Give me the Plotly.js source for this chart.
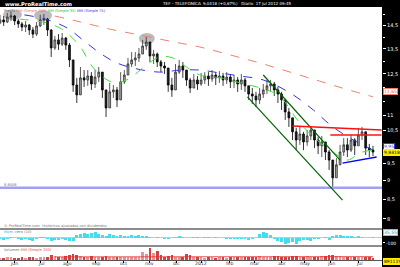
<!DOCTYPE html>
<html><head><meta charset="utf-8">
<script src="https://cdn.plot.ly/plotly-3.0.1.min.js"></script>
<style>html,body{margin:0;padding:0;background:#000}#c{width:400px;height:267px}</style>
</head><body><div id="c"></div><script>
// trading-day index of each (3-day) candle, counted from 16 May 2011
const tradingDay = [0,3,6,9,12,15,18,21,24,27,30,33,36,39,42,45,48,51,54,57,60,63,66,69,72,75,78,81,84,87,90,93,96,99,102,105,108,111,114,117,120,123,126,129,132,135,138,141,144,147,150,153,156,159,162,165,168,171,174,177,180,183,186,189,192,195,198,201,204,207,210,213,216,219,222,225,228,231,234,237,240,243,246,249,252,255,258,261,264,267,270,273,276,279,282,285,288,291,294,297,300,303,306];
const openP = [14.62,14.76,14.67,14.89,14.94,14.71,14.58,14.44,14.53,14.31,14.13,14.49,14.76,14.80,14.31,13.54,13.88,13.70,13.96,13.66,13.05,12.08,11.72,12.35,12.27,12.42,12.12,12.38,12.57,11.90,11.26,11.83,11.90,11.54,12.20,12.46,12.89,13.05,13.13,13.29,13.62,13.79,13.21,13.29,12.97,12.81,12.73,12.08,11.90,12.57,12.81,12.65,12.27,11.97,12.27,12.12,12.27,12.42,12.31,12.46,12.35,12.42,12.27,12.38,12.20,12.27,12.12,12.27,12.05,11.75,11.68,11.54,11.75,11.90,12.05,12.12,11.90,11.75,11.54,11.12,10.92,10.46,10.20,10.39,10.14,10.33,10.52,10.20,10.02,10.14,9.83,9.59,9.08,9.45,9.83,10.05,9.89,10.20,10.02,10.36,10.46,9.95,9.89];
const highP = [14.99,14.94,15.08,15.13,14.99,14.80,14.67,14.71,14.58,14.44,14.67,14.99,15.03,14.85,14.35,14.05,14.13,14.18,14.01,13.75,13.05,12.35,12.77,12.65,12.65,12.57,12.65,12.77,12.57,11.90,12.16,12.08,12.01,12.57,12.65,13.13,13.37,13.37,13.54,13.88,14.01,13.79,13.46,13.35,13.05,12.97,12.73,12.35,12.89,13.05,12.97,12.65,12.35,12.50,12.42,12.54,12.57,12.57,12.65,12.57,12.61,12.54,12.57,12.50,12.46,12.38,12.50,12.35,12.05,11.97,11.83,11.97,12.12,12.27,12.27,12.20,12.01,11.83,11.54,11.26,10.92,10.59,10.65,10.46,10.52,10.65,10.52,10.30,10.33,10.14,9.89,9.59,9.65,10.05,10.26,10.26,10.36,10.26,10.59,10.62,10.46,10.08,10.02];
const lowP = [14.58,14.49,14.62,14.71,14.53,14.40,14.26,14.22,14.09,13.96,14.05,14.44,14.53,14.05,13.17,13.46,13.46,13.62,13.46,12.77,11.83,11.43,11.72,12.01,12.05,11.90,11.97,12.20,11.61,10.95,11.26,11.61,11.29,11.54,12.12,12.46,12.77,12.81,12.97,13.29,13.46,12.97,12.89,12.77,12.57,12.50,11.83,11.65,11.90,12.50,12.35,12.05,11.79,11.97,11.90,12.05,12.12,12.05,12.20,12.08,12.16,12.05,12.12,11.97,11.97,11.83,11.90,11.83,11.54,11.40,11.29,11.40,11.61,11.75,11.83,11.68,11.43,11.19,10.85,10.62,10.20,9.89,10.05,9.89,10.02,10.20,9.95,9.77,9.68,9.59,9.30,8.83,9.08,9.45,9.71,9.68,9.83,9.74,10.02,10.20,9.74,9.68,9.71];
const closeP = [14.76,14.67,14.89,14.94,14.71,14.58,14.44,14.53,14.31,14.13,14.49,14.76,14.80,14.31,13.54,13.88,13.70,13.96,13.66,13.05,12.08,11.72,12.35,12.27,12.42,12.12,12.38,12.57,11.90,11.26,11.83,11.90,11.54,12.20,12.46,12.89,13.05,13.13,13.29,13.62,13.79,13.21,13.29,12.97,12.81,12.73,12.08,11.90,12.57,12.81,12.65,12.27,11.97,12.27,12.12,12.27,12.42,12.31,12.46,12.35,12.42,12.27,12.38,12.20,12.27,12.12,12.27,12.05,11.75,11.68,11.54,11.75,11.90,12.05,12.12,11.90,11.75,11.54,11.12,10.92,10.46,10.20,10.39,10.14,10.33,10.52,10.20,10.02,10.14,9.83,9.59,9.08,9.45,9.83,10.05,9.89,10.20,10.02,10.36,10.46,9.95,9.89,9.83];

const ma200Day = [45,66,90,115,139,164,189,213,238,262,283,306];
const ma200 = [14.94,14.67,14.35,14.09,13.83,13.58,13.25,12.93,12.57,12.23,11.94,11.65];
const ma75Day = [20,37,55,70,82,94,109,131,148,164,180,197,216,238,257,273,290,306];
const ma75 = [14.99,14.80,14.40,13.79,13.33,12.97,12.73,12.57,12.65,12.65,12.54,12.42,12.27,11.79,11.19,10.62,10.20,9.89];
const ma30Day = [16,39,49,55,66,76,88,96,107,117,131,142,153,164,181,197,219,230,244,257,271,285,295,305];
const ma30 = [14.80,14.62,14.40,14.18,13.58,12.77,12.27,12.16,12.35,12.73,13.17,13.13,12.77,12.46,12.35,12.16,11.90,11.65,10.85,10.30,9.89,9.59,9.80,9.89];

const oscillator = [-30,-40,-20,10,-10,-35,-45,-30,-50,-55,-20,10,15,-25,-60,-40,-45,-30,-40,-55,-60,
  40,70,90,60,80,100,70,50,30,60,
  40,30,50,20,35,45,25,40,30,20,
  10,-10,15,-15,-20,-30,-10,15,20,10,-5,-15,5,10,-10,5,10,-5,8,-8,
  -15,-25,-20,-30,-35,-25,-30,-40,-20,-15,
  60,100,80,40,
  -30,-60,-90,-120,-100,-80,-110,-70,
  -50,-40,-60,-30,
  -20,-10,10,-40,20,45,40,30,35,20,10,25,15,-10,-5,5];
const volume = [20,18,22,25,20,18,24,20,26,22,20,28,24,22,40,35,30,28,32,45,50,
  42,35,30,28,32,26,24,30,35,30,28,26,24,22,26,28,24,30,70,55,
  100,60,80,40,30,35,40,28,25,30,50,45,30,28,24,20,22,26,20,24,
  22,20,26,24,28,30,25,22,26,30,35,28,25,30,32,35,30,28,30,32,
  35,30,28,32,30,28,26,32,35,40,45,38,32,30,28,26,30,28,24,26,22,20];
const volMaDay = [45,100,160,220,280,306];
const volMa = [27,28,30,29,29,29];

const monthTickDay = [11.5,33.4,55.5,78.5,101.1,123,144.4,165,187.9,208.4,231.3,250.2,271.5,294.5];
const monthLabels = ['jun','jul','ago','sep','oct','nov','dic','2012','feb','mar','abr','may','jun','jul'];
const priceTicks = [14.5,13.5,12.5,11,10.5,9.5,9,8.5,8];
const priceTickText = ['14,5','13,5','12,5','11','10,5','9,5','9','8,5','8'];
const priceMinorTicks = [15,14,13,12,11.5,10];

// drawn objects
const channelUpDays = [216,279], channelUpPrices = [12.46,9.59];
const channelLowDays = [203,281], channelLowPrices = [11.65,8.48];
const resist1Days = [240,313], resist1Prices = [10.65,10.52];
const resist2Days = [271,313], resist2Prices = [10.36,10.36];
const triLowDays = [281,309], triLowPrices = [9.50,9.68];
const supportPrice = 8.81;
const ellipseDays = [[2.5,18],[27.9,42.7],[114,127]];
const ellipsePrices = [[15.25,14.76],[15.22,14.71],[14.18,13.70]];

const px = x => x/382, py = y => (260-y)/253;
const FONT = 'DejaVu Sans, Arial';

const traces = [
  {type:'candlestick', x:tradingDay, open:openP, high:highP, low:lowP, close:closeP,
   increasing:{line:{color:'#303030',width:0.8},fillcolor:'#a8a8a8'},
   decreasing:{line:{color:'#000',width:0.8},fillcolor:'#202020'},
   whiskerwidth:0, xaxis:'x', yaxis:'y', hoverinfo:'skip'},
  {type:'scatter', mode:'lines', x:ma200Day, y:ma200, line:{color:'#f08070',width:1,dash:'dash',shape:'spline'}, yaxis:'y'},
  {type:'scatter', mode:'lines', x:ma75Day, y:ma75, line:{color:'#3535e0',width:1,dash:'dash',shape:'spline'}, yaxis:'y'},
  {type:'scatter', mode:'lines', x:ma30Day, y:ma30, line:{color:'#40dd40',width:1,dash:'dash',shape:'spline'}, yaxis:'y'},
  {type:'bar', x:tradingDay, y:oscillator, marker:{color:'#44ddee'}, width:2.4, yaxis:'y2'},
  {type:'bar', x:tradingDay, y:volume, marker:{color:tradingDay.map((d,i)=> closeP[i]>=openP[i] ? '#f09090' : '#d84040')}, width:2.2, yaxis:'y3'},
  {type:'scatter', mode:'lines', x:volMaDay, y:volMa, line:{color:'#e03030',width:0.8}, yaxis:'y3'}
];

const shapes = [
  {type:'rect', xref:'paper', yref:'paper', x0:0, x1:1, y0:-0.03, y1:0, fillcolor:'#fff', line:{width:0}, layer:'below'},
  {type:'line', xref:'paper', yref:'paper', x0:0, x1:1, y0:py(229), y1:py(229), line:{color:'#8c8c8c',width:2}},
  {type:'line', xref:'paper', yref:'paper', x0:0, x1:1, y0:py(246), y1:py(246), line:{color:'#8c8c8c',width:2}},
  {type:'line', xref:'x', yref:'y', x0:0, x1:313.4, y0:supportPrice, y1:supportPrice, line:{color:'#a0a0f0',width:2.5}},
  {type:'line', xref:'x', yref:'y', x0:channelUpDays[0], x1:channelUpDays[1], y0:channelUpPrices[0], y1:channelUpPrices[1], line:{color:'#006400',width:1.2}},
  {type:'line', xref:'x', yref:'y', x0:channelLowDays[0], x1:channelLowDays[1], y0:channelLowPrices[0], y1:channelLowPrices[1], line:{color:'#006400',width:1.2}},
  {type:'line', xref:'x', yref:'y', x0:resist1Days[0], x1:resist1Days[1], y0:resist1Prices[0], y1:resist1Prices[1], line:{color:'#ff1010',width:1.5}},
  {type:'line', xref:'x', yref:'y', x0:resist2Days[0], x1:resist2Days[1], y0:resist2Prices[0], y1:resist2Prices[1], line:{color:'#ff1010',width:1.5}},
  {type:'line', xref:'x', yref:'y', x0:triLowDays[0], x1:triLowDays[1], y0:triLowPrices[0], y1:triLowPrices[1], line:{color:'#0000ff',width:1.5}}
];
ellipseDays.forEach((d,i)=>shapes.push({type:'circle', xref:'x', yref:'y', x0:d[0], x1:d[1], y0:ellipsePrices[i][1], y1:ellipsePrices[i][0], fillcolor:'rgba(150,150,150,0.65)', line:{width:0}, layer:'below'}));

function txt(x,y,text,size,color,extra){return Object.assign({xref:'paper',yref:'paper',x:px(x),y:py(y),xanchor:'left',yanchor:'middle',text:text,showarrow:false,font:{family:FONT,size:size,color:color}},extra||{});}
function box(y,text,bg,border,color){return {xref:'paper',yref:'paper',x:px(383),y:py(y),xanchor:'left',yanchor:'middle',text:text,showarrow:false,bgcolor:bg,bordercolor:border,borderwidth:1,borderpad:0,font:{family:FONT,size:4.5,color:color}};}

const annotations = [
  txt(3,3.6,'<b>www.ProRealTime.com</b>',5.2,'#fff'),
  txt(160,3.6,'TEF - TELEFONICA',4.2,'#fff'),
  txt(201,3.6,'9,0418 (+0,67%)   Diario  17 jul 2012 09:45',4,'#fff'),
  txt(2,11,'<span style="color:#666">Precio</span> <span style="color:#f07060">MM (Simple 200)</span> <span style="color:#30c030">MM (Simple 30)</span> <span style="color:#3535e0">MM (Simple 75)</span>',3.6,'#666'),
  txt(2,184.5,'8,8006',3.6,'#777'),
  txt(2,226,'© ProRealTime.com  Históricos ajustados con dividendos',3.6,'#777'),
  txt(2,231.8,'<span style="color:#33bbdd">Mom.</span> cero (10)',3.6,'#777'),
  txt(2,249.5,'Volumen <span style="color:#e05050">MM (Simple 200)</span>',3.6,'#777'),
  box(92,'11,65','#fff','#f08070','#e06050'),
  box(146.5,'9,95','#fff','#3535e0','#3535e0'),
  box(152,'9,8418','#ffee00','#ffee00','#000'),
  box(232.5,'35,55','#fff','#44ddee','#0099bb'),
  box(261.5,'891119','#ffee00','#ffee00','#000')
];
monthTickDay.forEach((d,i)=>annotations.push({xref:'x', yref:'paper', x:d, y:py(263.3), xanchor:'center', yanchor:'middle', text:monthLabels[i], showarrow:false, font:{family:FONT,size:4.6,color:'#333'}}));

const layout = {
  width:400, height:267, margin:{l:0,r:18,t:7,b:7,pad:0},
  paper_bgcolor:'#000', plot_bgcolor:'#fff', showlegend:false, separators:', ', hovermode:false,
  xaxis:{range:[0,313.4], anchor:'y3', tickmode:'array', tickvals:monthTickDay, showticklabels:false,
    ticks:'outside', ticklen:1.5, tickcolor:'#000',
    showgrid:false, zeroline:false, showline:true, linecolor:'#555', linewidth:1, rangeslider:{visible:false}},
  yaxis:{type:'log', domain:[py(229),1], range:[Math.log10(7.757),Math.log10(15.359)], side:'right',
    tickmode:'array', tickvals:priceTicks, ticktext:priceTickText, tickfont:{family:FONT,size:5,color:'#fff'},
    ticks:'outside', ticklen:3, tickcolor:'#fff', showgrid:false, zeroline:false, showline:false,
    minor:{tickvals:priceMinorTicks, ticks:'outside', ticklen:2, tickcolor:'#fff', showgrid:false}},
  yaxis2:{domain:[py(246),py(229)], range:[-155,155], side:'right', tickmode:'array', tickvals:[-100], ticktext:['-100'],
    tickfont:{family:FONT,size:4.5,color:'#fff'}, ticks:'outside', ticklen:2, tickcolor:'#fff',
    showgrid:false, zeroline:true, zerolinecolor:'#c8c8c8', zerolinewidth:1, showline:false},
  yaxis3:{domain:[0,py(246)], range:[0,120], side:'right', showticklabels:false, ticks:'', showgrid:false, zeroline:false, showline:false},
  bargap:0, shapes:shapes, annotations:annotations
};
Plotly.newPlot('c', traces, layout, {staticPlot:true, displayModeBar:false});
</script></body></html>
